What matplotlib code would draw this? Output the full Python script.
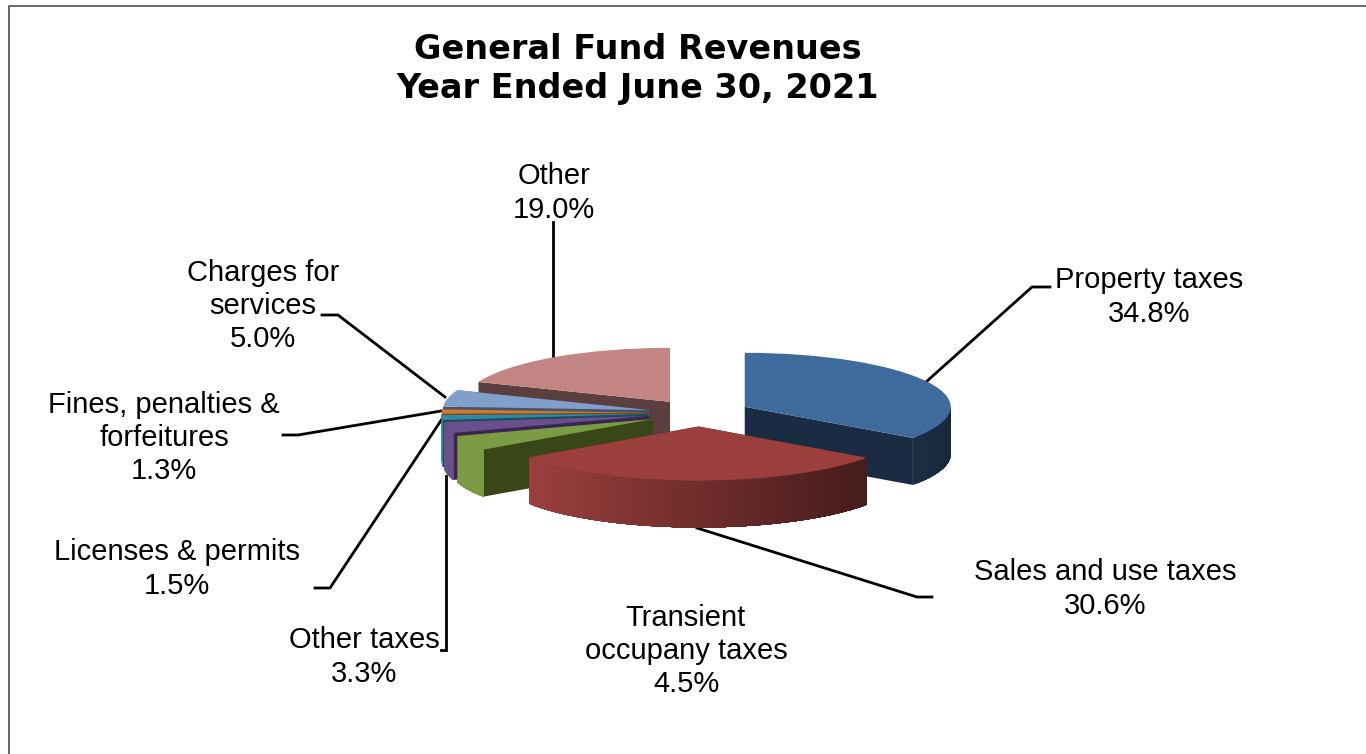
import numpy as np
import matplotlib
matplotlib.use("Agg")
import matplotlib.pyplot as plt
from matplotlib.patches import Polygon

names = ["Property taxes", "Sales and use taxes", "Transient\noccupany taxes", "Other taxes",
         "Licenses & permits", "Fines, penalties &\nforfeitures", "Charges for\nservices", "Other"]
shares = [34.8, 30.6, 4.5, 3.3, 1.5, 1.3, 5.0, 19.0]
title_lines = "General Fund Revenues\nYear Ended June 30, 2021"

top_colors = ["#3f6a9c", "#9b3f3d", "#7c9b45", "#6a4f8c", "#2f8ba3", "#d07a2e", "#829fcb", "#c38584"]
wall_colors = ["#192c44", "#451812", "#394618", "#38264f", "#1a4c59", "#7a4517", "#44546e", "#5b3e3e"]

W, H = 1366, 754
RX, RY, DEPTH = 206.0, 54.0, 47.0
CX, CY = 699.0, 413.0

plt.rcParams["font.family"] = ["Liberation Sans", "DejaVu Sans"]
fig = plt.figure(figsize=(W / 100, H / 100), dpi=100, facecolor="white")

# page coords for the text and leader lines
bg = fig.add_axes([0, 0, 1, 1])
bg.set_xlim(0, W)
bg.set_ylim(H, 0)
bg.axis("off")

bg.plot([8.5, 8.5, W], [H, 5.5, 5.5], color="#5a5a5a", lw=1.3)

bg.text(637.5, 69, title_lines, ha="center", va="center", fontsize=24.1, fontweight="bold",
        family="DejaVu Sans", linespacing=1.22, color="black")

label_pos = [(1149, 297), (1105, 589), (686, 651), (364, 657), (177, 569), (164, 438), (263, 306), (554, 193)]
for name, val, (lx, ly) in zip(names, shares, label_pos):
    bg.text(lx, ly, f"{name}\n{val:.1f}%", ha="center", va="center", fontsize=21,
            linespacing=1.24, color="black")

leaders = [
    ([1050, 1032, 926], [287, 287, 382]),
    ([932, 917, 697], [597, 597, 528]),
    ([441, 446, 446], [650, 650, 476]),
    ([315, 330, 442], [588, 588, 419]),
    ([283, 298, 441], [435, 435, 411]),
    ([322, 338, 445], [315, 315, 397]),
    ([553, 553], [222, 358]),
]
for xs, ys in leaders:
    bg.plot(xs, ys, color="black", lw=2.0, solid_joinstyle="miter")

# pie axes, unit circle squashed into an ellipse by the axes box
xlim = (-1.5, 1.5)
ylim = (-2.5, 1.5)
left = CX + xlim[0] * RX
top = CY - ylim[1] * RY
ax_w = (xlim[1] - xlim[0]) * RX
ax_h = (ylim[1] - ylim[0]) * RY
ax = fig.add_axes([left / W, 1 - (top + ax_h) / H, ax_w / W, ax_h / H])
wedges, _ = ax.pie(shares, explode=[0.25] * len(shares), startangle=90, counterclock=False,
                   colors=top_colors, radius=1.0, wedgeprops={"linewidth": 0})
ax.set_aspect("auto")
ax.set_xlim(xlim)
ax.set_ylim(ylim)
ax.patch.set_alpha(0)
ax.axis("off")

d = DEPTH / RY


def shade(color, cos_t):
    f = np.clip(0.72 - 0.34 * cos_t, 0, 1)
    return tuple(c * f for c in matplotlib.colors.to_rgb(color))


# back to front
order = sorted(range(len(wedges)), key=lambda i: -wedges[i].center[1])
for z, i in enumerate(order):
    w = wedges[i]
    cx, cy = w.center
    base = 10 + z * 3
    for a in (w.theta1, w.theta2):
        px = cx + np.cos(np.radians(a))
        py = cy + np.sin(np.radians(a))
        ax.add_patch(Polygon([(cx, cy), (px, py), (px, py - d), (cx, cy - d)],
                             closed=True, fc=wall_colors[i], lw=0, zorder=base))
    # front-facing rim only, each strip runs to the end of the rim so no seams show
    angs = np.append(np.arange(w.theta1, w.theta2, 1.0), w.theta2)
    angs = angs[np.sin(np.radians(angs)) <= 1e-9]
    for k in range(len(angs) - 1):
        arc = np.radians(angs[k:])
        xs = cx + np.cos(arc)
        ys = cy + np.sin(arc)
        col = shade(top_colors[i], np.cos(np.radians(angs[k] + 0.5)))
        pts = list(zip(xs, ys)) + list(zip(xs[::-1], ys[::-1] - d))
        ax.add_patch(Polygon(pts, closed=True, fc=col, lw=0, zorder=base + 1))
    w.set_zorder(base + 2)

fig.savefig("out.png", dpi=100, facecolor="white")
